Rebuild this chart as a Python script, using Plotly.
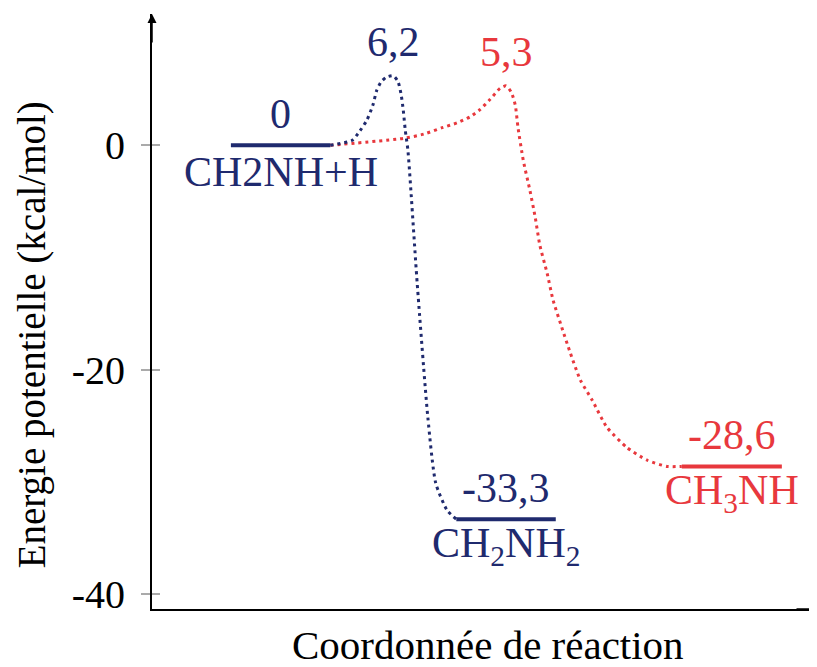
import plotly.graph_objects as go

# ---------------- data ----------------
BLUE = "#1f2a6e"
RED = "#e8383d"

level_names = ["CH2NH+H", "CH<sub>2</sub>NH<sub>2</sub>", "CH<sub>3</sub>NH"]
level_energy = [0.0, -33.3, -28.6]
level_x0 = [1.19, 4.59, 7.99]
level_x1 = [2.69, 6.09, 9.50]
level_colors = [BLUE, BLUE, RED]

ts_energy = [6.2, 5.3]
ts_x = [3.64, 5.34]
ts_colors = [BLUE, RED]

# blue path: reactant -> TS1 -> CH2NH2
blue_x = [2.69, 3.02, 3.11, 3.24, 3.33, 3.39, 3.45, 3.53, 3.64, 3.71, 3.76,
          3.79, 3.82, 3.86, 4.00, 4.16, 4.28, 4.45, 4.59]
blue_y = [0.0, 0.45, 1.07, 2.23, 3.56, 4.90, 5.61, 6.06, 6.2, 5.70, 4.45,
          3.12, 1.34, -0.45, -12.3, -24.2, -30.1, -32.5, -33.3]

# red path: reactant -> TS2 -> CH3NH
red_x = [2.69, 3.79, 4.10, 4.39, 4.60, 4.80, 4.95, 5.10, 5.25, 5.34, 5.42, 5.48, 5.52,
         5.60, 5.70, 5.78, 5.85, 5.96, 6.05, 6.18, 6.31, 6.46, 6.64, 6.86,
         7.16, 7.47, 7.77, 7.99]
red_y = [0.0, 0.62, 1.0, 1.60, 2.0, 2.55, 3.2, 4.10, 5.08, 5.3, 4.72, 3.56, 1.60,
         -1.34, -4.01, -6.41, -8.90, -11.4, -13.8, -16.2, -18.5, -20.9,
         -22.7, -25.1, -26.9, -28.05, -28.6, -28.6]

y_ticks = [0, -20, -40]
y_range = [-41.3, 11.7]
x_range = [0, 10]

FONT = "Liberation Serif"
FS = 42


def fmt(v):
    if v == 0:
        return "0"
    return f"{v:.1f}".replace(".", ",")


fig = go.Figure()

DOT = "3px,4px"
fig.add_trace(go.Scatter(x=red_x, y=red_y, mode="lines",
                         line=dict(color=RED, width=3, dash=DOT, shape="spline", smoothing=0.6),
                         hoverinfo="skip", showlegend=False))
fig.add_trace(go.Scatter(x=blue_x, y=blue_y, mode="lines",
                         line=dict(color=BLUE, width=3, dash=DOT, shape="spline", smoothing=0.6),
                         hoverinfo="skip", showlegend=False))

for x0, x1, e, c in zip(level_x0, level_x1, level_energy, level_colors):
    fig.add_trace(go.Scatter(x=[x0, x1], y=[e, e], mode="lines",
                             line=dict(color=c, width=4),
                             hoverinfo="skip", showlegend=False))

annotations = []
for x0, x1, e, c, name in zip(level_x0, level_x1, level_energy, level_colors, level_names):
    xc = (x0 + x1) / 2
    annotations.append(dict(x=xc, y=e, xref="x", yref="y", text=fmt(e), showarrow=False,
                            yanchor="middle", yshift=31, font=dict(family=FONT, size=FS, color=c)))
    annotations.append(dict(x=xc, y=e, xref="x", yref="y", text=name, showarrow=False,
                            yanchor="middle", yshift=-27, font=dict(family=FONT, size=FS, color=c)))
for x, e, c in zip(ts_x, ts_energy, ts_colors):
    annotations.append(dict(x=x, y=e, xref="x", yref="y", text=fmt(e), showarrow=False,
                            yanchor="middle", yshift=34, font=dict(family=FONT, size=FS, color=c)))

# axis titles
annotations.append(dict(x=0.5, y=0, xref="paper", yref="paper", text="Coordonnée de réaction",
                        showarrow=False, xanchor="center", yanchor="middle", yshift=-36,
                        xshift=4, font=dict(family=FONT, size=41, color="black")))
annotations.append(dict(x=0, y=0.46, xref="paper", yref="paper",
                        text="Energie potentielle (kcal/mol)", textangle=-90,
                        showarrow=False, xanchor="center", yanchor="middle", xshift=-120,
                        font=dict(family=FONT, size=39, color="black")))
# axis arrows
annotations.append(dict(x=0, y=1, xref="paper", yref="paper", ax=0, ay=30, text="",
                        showarrow=True, arrowhead=2, arrowsize=1.2, arrowwidth=1.5,
                        arrowcolor="black"))
annotations.append(dict(x=1, y=0, xref="paper", yref="paper", ax=-20, ay=0, text="",
                        showarrow=True, arrowhead=2, arrowsize=0.6, arrowwidth=1.5,
                        arrowcolor="black"))

fig.update_layout(
    width=809, height=659,
    margin=dict(l=144, r=2, t=6, b=58),
    paper_bgcolor="white", plot_bgcolor="white",
    showlegend=False,
    annotations=annotations,
    xaxis=dict(range=x_range, showgrid=False, zeroline=False, showticklabels=False,
               ticks="", showline=True, linecolor="black", linewidth=2, fixedrange=True),
    yaxis=dict(range=y_range, showgrid=False, zeroline=False, tickvals=y_ticks,
               ticktext=[str(t) for t in y_ticks], ticks="outside", ticklen=9,
               tickcolor="#aaaaaa", tickwidth=1.5, ticklabelstandoff=8,
               tickfont=dict(family=FONT, size=40, color="black"),
               showline=True, linecolor="black", linewidth=2, fixedrange=True),
    yaxis2=dict(range=y_range, overlaying="y", side="left", showgrid=False, zeroline=False,
                tickvals=y_ticks, showticklabels=False, ticks="inside", ticklen=8,
                tickcolor="#aaaaaa", tickwidth=1.5, showline=False, fixedrange=True),
)
# dummy invisible trace to activate yaxis2
fig.add_trace(go.Scatter(x=[None], y=[None], yaxis="y2", showlegend=False, hoverinfo="skip"))

fig.write_html("out.html")
